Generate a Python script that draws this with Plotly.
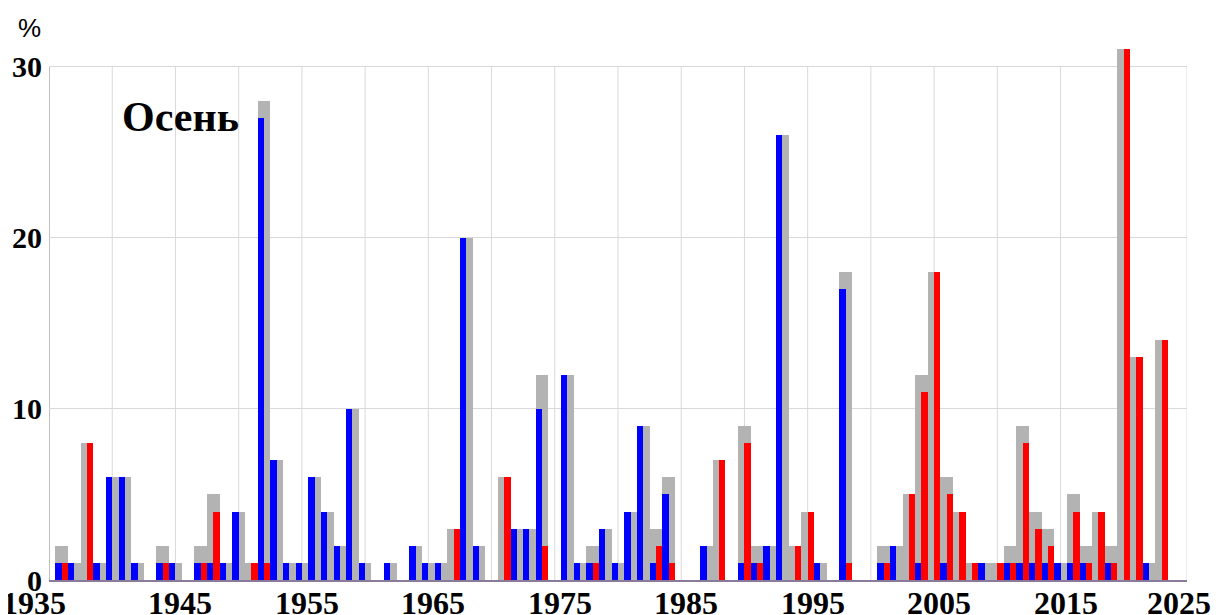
import plotly.graph_objects as go

years = list(range(1936, 2024))

# total (grey), cold (blue), warm (red) — percent
total = [2, 1, 8, 1, 6, 6, 1, 0, 2, 1, 0, 2, 5, 1, 4,          # 1936-1950
         1, 28, 7, 1, 1, 6, 4, 2, 10, 1,                        # 1951-1960
         0, 1, 0, 2, 1, 1, 3, 20, 2, 0,                         # 1961-1970
         6, 3, 3, 12, 0, 12, 1, 2, 3, 1,                        # 1971-1980
         4, 9, 3, 6, 0, 0, 2, 7, 0, 9,                          # 1981-1990
         2, 2, 26, 2, 4, 1, 0, 18, 0, 0,                        # 1991-2000
         2, 2, 5, 12, 18, 6, 4, 1, 1, 1,                        # 2001-2010
         2, 9, 4, 3, 1, 5, 2, 4, 2, 31,                         # 2011-2020
         13, 1, 14]                                             # 2021-2023
blue = [1, 1, 0, 1, 6, 6, 1, 0, 1, 1, 0, 1, 1, 1, 4,
        0, 27, 7, 1, 1, 6, 4, 2, 10, 1,
        0, 1, 0, 2, 1, 1, 0, 20, 2, 0,
        0, 3, 3, 10, 0, 12, 1, 1, 3, 1,
        4, 9, 1, 5, 0, 0, 2, 0, 0, 1,
        1, 2, 26, 0, 0, 1, 0, 17, 0, 0,
        1, 2, 0, 1, 0, 1, 0, 0, 1, 0,
        1, 1, 1, 1, 1, 1, 1, 0, 1, 0,
        0, 1, 0]
red = [1, 0, 8, 0, 0, 0, 0, 0, 1, 0, 0, 1, 4, 0, 0,
       1, 1, 0, 0, 0, 0, 0, 0, 0, 0,
       0, 0, 0, 0, 0, 0, 3, 0, 0, 0,
       6, 0, 0, 2, 0, 0, 0, 1, 0, 0,
       0, 0, 2, 1, 0, 0, 0, 7, 0, 8,
       1, 0, 0, 2, 4, 0, 0, 1, 0, 0,
       1, 0, 5, 11, 18, 5, 4, 1, 0, 1,
       1, 8, 3, 2, 0, 4, 1, 4, 1, 31,
       13, 0, 14]

x_ticks = list(range(1935, 2026, 10))
x_grid = list(range(1935, 2026, 5))
y_ticks = [0, 10, 20, 30]
Y_TOP = 30
Y_MAX = 31.3

fig = go.Figure()
fig.add_trace(go.Bar(x=years, y=total, width=1.0, marker=dict(color="#b3b3b3", line=dict(width=0)),
                     showlegend=False))
fig.add_trace(go.Bar(x=[y - 0.25 for y in years], y=blue, width=0.5,
                     marker=dict(color="#0000ff", line=dict(width=0)), showlegend=False))
fig.add_trace(go.Bar(x=[y + 0.25 for y in years], y=red, width=0.5,
                     marker=dict(color="#ff0000", line=dict(width=0)), showlegend=False))

serif = "Liberation Serif, Times New Roman, serif"

shapes = []
for g in x_grid:
    shapes.append(dict(type="line", xref="x", yref="y", x0=g, x1=g, y0=0, y1=Y_TOP,
                       line=dict(color="#a8a8a8" if g == 1935 else "#d9d9d9", width=1.5 if g == 1935 else 1),
                       layer="below"))

annotations = [
    dict(text="%", xref="paper", yref="paper", x=-0.0167, y=1.03, showarrow=False,
         xanchor="center", yanchor="middle", font=dict(family="Liberation Sans, Arial", size=26, color="black")),
    dict(text="<b>Осень</b>", xref="paper", yref="paper", x=0.062, y=0.864, showarrow=False,
         xanchor="left", yanchor="middle", font=dict(family=serif, size=42, color="black")),
]
# x tick labels (end labels kept inside the picture, as in the original)
for i, t in enumerate(x_ticks):
    if i == 0:
        anchor, shift = "left", -49
    elif i == len(x_ticks) - 1:
        anchor, shift = "right", 26
    else:
        anchor, shift = "center", 5
    annotations.append(dict(text=f"<b>{t}</b>", xref="x", yref="paper", x=t, y=-0.043,
                            xanchor=anchor, yanchor="middle", xshift=shift, showarrow=False,
                            font=dict(family=serif, size=32, color="black")))

fig.update_layout(
    width=1212, height=607,
    margin=dict(l=41, r=33, t=36, b=35),
    paper_bgcolor="white", plot_bgcolor="white",
    barmode="overlay", bargap=0,
    shapes=shapes,
    xaxis=dict(range=[1935, 2025], showticklabels=False,
               showgrid=False, automargin=False,
               showline=True, linecolor="#8a7a9a", linewidth=1.5,
               ticks="", zeroline=False),
    yaxis=dict(range=[0, Y_MAX], tickvals=y_ticks, ticktext=[str(v) for v in y_ticks],
               showgrid=True, gridcolor="#d9d9d9", gridwidth=1, automargin=False,
               showline=False, ticks="", zeroline=False, ticklabelstandoff=6,
               tickfont=dict(family=serif, size=30, color="black", weight="bold")),
    annotations=annotations,
)

fig.write_html("out.html")
